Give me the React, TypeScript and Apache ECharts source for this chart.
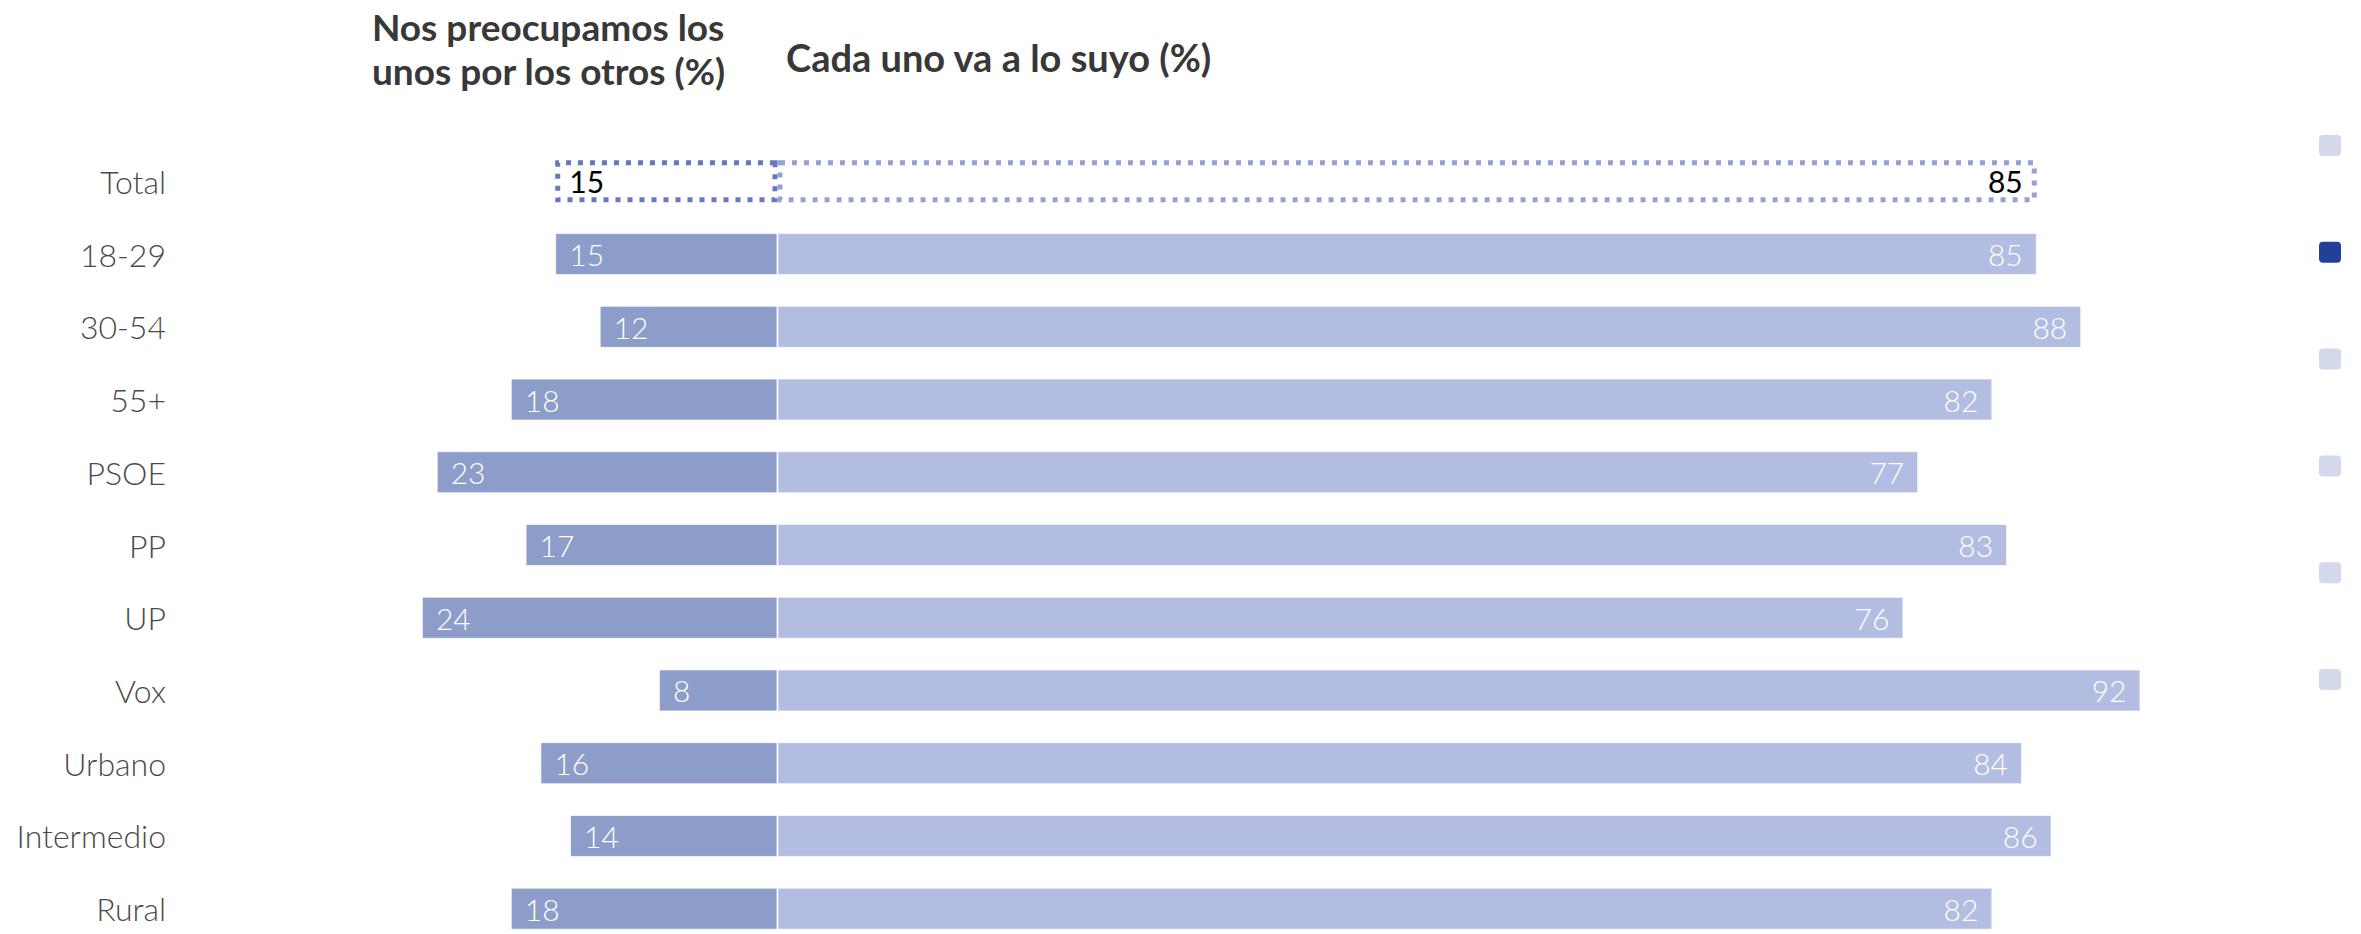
import React, { useEffect, useRef } from "react";
import * as echarts from "echarts";

const categories = ["Total", "18-29", "30-54", "55+", "PSOE", "PP", "UP", "Vox", "Urbano", "Intermedio", "Rural"];
const preocupamos = [15, 15, 12, 18, 23, 17, 24, 8, 16, 14, 18];
const cadaUno = [85, 85, 88, 82, 77, 83, 76, 92, 84, 86, 82];
const titleLeft = ["Nos preocupamos los", "unos por los otros (%)"];
const titleRight = "Cada uno va a lo suyo (%)";
const pagerDots = [false, true, false, false, false, false];

const FONT = "Lato";
const DARK = "#8C9DCA";
const LIGHT = "#B3BDE1";

export default function App() {
  const ref = useRef<HTMLDivElement>(null);
  useEffect(() => {
    if (!ref.current) return;
    const chart = echarts.init(ref.current, undefined, { renderer: "svg" });
    const leftData = preocupamos.map((v, i) =>
      i === 0
        ? {
            value: -v,
            itemStyle: { color: "#ffffff", borderColor: "#6679BE", borderWidth: 5, borderType: [5, 7] },
            label: { color: "#000000", fontWeight: 400 },
          }
        : -v
    );
    const rightData = cadaUno.map((v, i) =>
      i === 0
        ? {
            value: v,
            itemStyle: { color: "#ffffff", borderColor: "#93A2D3", borderWidth: 5, borderType: [5, 7] },
            label: { color: "#000000", fontWeight: 400 },
          }
        : v
    );
    const graphics: any[] = [
      {
        type: "text",
        right: 2361 - 726,
        top: 4,
        style: {
          text: titleLeft.join("\n"),
          font: `bold 37px ${FONT}`,
          fill: "#383838",
          align: "right",
          lineHeight: 44,
        },
      },
      {
        type: "text",
        left: 786,
        top: 38,
        style: { text: titleRight, font: `bold 38px ${FONT}`, fill: "#383838" },
      },
    ];
    pagerDots.forEach((active, i) => {
      graphics.push({
        type: "rect",
        shape: { x: 2319, y: 135 + i * 106.8, width: 22, height: 21, r: 4 },
        style: { fill: active ? "#20409A" : "#D3D8EB" },
      });
    });
    chart.setOption({
      animation: false,
      grid: { left: 333, right: 102, top: 145, height: 800, containLabel: false },
      xAxis: {
        type: "value",
        min: -30,
        max: 100,
        show: false,
      },
      yAxis: {
        type: "category",
        data: categories,
        inverse: true,
        axisLine: { show: false, onZero: false },
        axisTick: { show: false },
        axisLabel: {
          margin: 167,
          fontFamily: FONT,
          fontWeight: 300,
          fontSize: 32,
          color: "#4a4a4a",
        },
      },
      series: [
        {
          name: "Nos preocupamos los unos por los otros (%)",
          type: "bar",
          stack: "s",
          barWidth: 42,
          data: leftData,
          itemStyle: { color: DARK, borderColor: "rgba(255,255,255,0.7)", borderWidth: 1 },
          label: {
            show: true,
            position: "insideLeft",
            distance: 14,
            color: "#ffffff",
            fontFamily: FONT,
            fontWeight: 300,
            fontSize: 30,
            formatter: (p: any) => String(Math.abs(p.value)),
          },
        },
        {
          name: "Cada uno va a lo suyo (%)",
          type: "bar",
          stack: "s",
          barWidth: 42,
          data: rightData,
          itemStyle: { color: LIGHT, borderColor: "rgba(255,255,255,0.7)", borderWidth: 1 },
          label: {
            show: true,
            position: "insideRight",
            distance: 14,
            color: "#ffffff",
            fontFamily: FONT,
            fontWeight: 300,
            fontSize: 30,
            formatter: (p: any) => String(Math.abs(p.value)),
          },
        },
      ],
      graphic: graphics,
    });
    return () => chart.dispose();
  }, []);
  return (
    <div
      style={{ position: "fixed", left: 0, top: 0, width: 2361, height: 934, overflow: "hidden", background: "#fff" }}
    >
      <div ref={ref} style={{ width: 2361, height: 960 }} />
    </div>
  );
}
